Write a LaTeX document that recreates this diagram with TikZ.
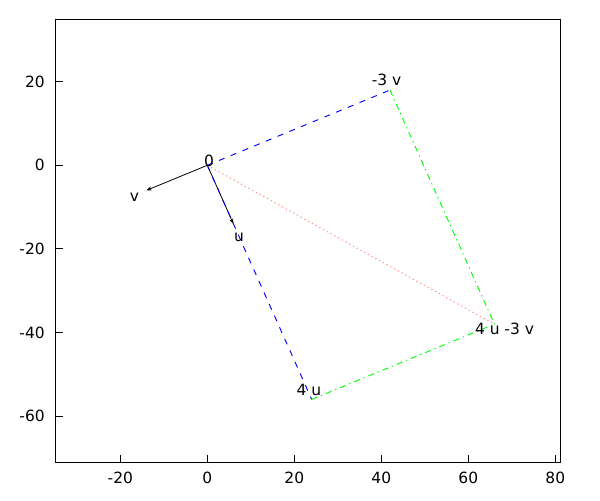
\documentclass[tikz,border=0pt]{standalone}
\usepackage{fontspec}
\setmainfont{DejaVu Sans}
\usetikzlibrary{arrows.meta}
\tikzset{
  lbl/.style={inner sep=0pt, font=\fontsize{11.6}{14}\selectfont},
  xtl/.style={lbl, anchor=center},
  ytl/.style={lbl, anchor=east},
  ptl/.style={lbl, anchor=base},
  frame/.style={line width=0.75pt, black},
  vecarrow/.style={line width=0.6pt, black, -{Stealth[length=4pt,width=3pt]}},
  bluedash/.style={line width=0.7pt, blue, dash pattern=on 4.5pt off 5pt},
  greendd/.style={line width=0.7pt, green, dash pattern=on 4.5pt off 3pt on 1pt off 3pt},
  reddot/.style={line width=0.7pt, red!45, dash pattern=on 1pt off 2.2pt}
}
\begin{document}
\begin{tikzpicture}[x=0.75pt,y=-0.75pt]
\useasboundingbox (0,0) rectangle (600,500);
% frame
\draw[frame] (55.05,19) rectangle (560.5,462.9);
% bottom ticks and labels
\foreach \v in {-20,0,20,40,60,80} {
  \draw[frame] ({207.3+4.35*\v},462.9) -- ({207.3+4.35*\v},455);
  \node[xtl] (xt\v) at ({207.3+4.35*\v},477.5) {\v};
}
% left ticks and labels
\foreach \v in {-60,-40,-20,0,20} {
  \draw[frame] (55.05,{165.3-4.18*\v}) -- (63,{165.3-4.18*\v});
  \node[ytl] (yt\v) at (45,{165.3-4.18*\v}) {\v};
}
% data scope
\begin{scope}[shift={(155.475pt,-123.975pt)}, x=3.2625pt, y=3.135pt]
  \coordinate (O) at (0,0);
  \coordinate (U) at (6,-14);
  \coordinate (V) at (-14,-6);
  \coordinate (U4) at (24,-56);
  \coordinate (V3) at (42,18);
  \coordinate (S) at (66,-38);
  \draw[vecarrow] (O) -- (U);
  \draw[vecarrow] (O) -- (V);
  \draw[bluedash] (O) -- (V3);
  \draw[bluedash] (O) -- (U4);
  \draw[greendd] (V3) -- (S);
  \draw[greendd] (U4) -- (S);
  \draw[reddot] (O) -- (S);
\end{scope}
% point labels
\node[ptl] (l0) at (209,166) {0};
\node[ptl] (lu) at (239,241.7) {u};
\node[ptl] (lv) at (134.5,201.7) {v};
\node[ptl] (lv3) at (386.5,85.7) {-3 v};
\node[ptl] (lu4) at (308.8,395) {4 u};
\node[ptl] (ls) at (504.5,334.3) {4 u -3 v};
\end{tikzpicture}
\end{document}
